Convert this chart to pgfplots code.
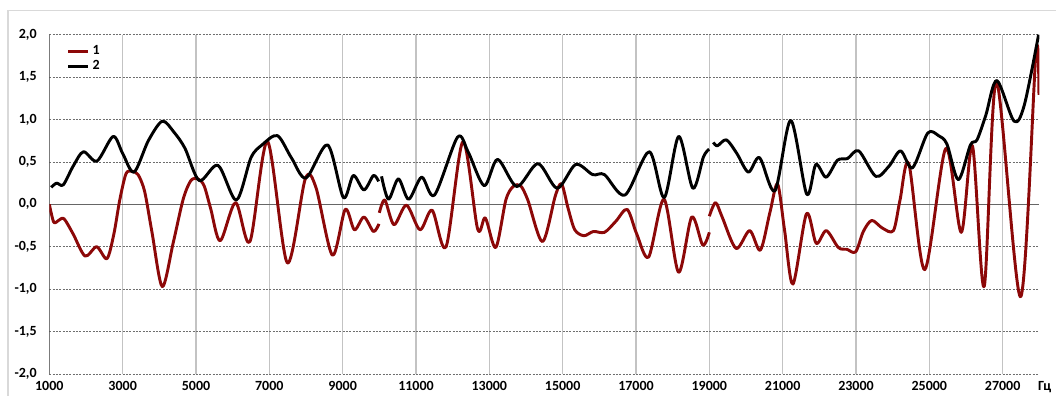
\documentclass[border=0pt]{standalone}
\usepackage{fontspec}
\setmainfont{Carlito}
\usepackage{pgfplots}
\pgfplotsset{compat=1.18}
\definecolor{dred}{RGB}{140,8,8}
\definecolor{vgrid}{RGB}{195,195,195}
\definecolor{hgrid}{RGB}{110,110,110}
\definecolor{axgray}{RGB}{85,85,85}
\begin{document}
\begin{tikzpicture}
\useasboundingbox (-37pt,-16.5pt) rectangle (755pt,280.5pt);
\begin{axis}[
  at={(0,0)}, anchor=south west, scale only axis,
  width=742.5pt, height=254.5pt,
  xmin=1000, xmax=28000, ymin=-2, ymax=2,
  axis line style={draw=none},
  xtick={1000,3000,5000,7000,9000,11000,13000,15000,17000,19000,21000,23000,25000,27000},
  xticklabels={1000,3000,5000,7000,9000,11000,13000,15000,17000,19000,21000,23000,25000,27000},
  extra x ticks={28000}, extra x tick labels={Гц},
  extra x tick style={grid=none, xticklabel style={xshift=4pt}},
  ytick={-2,-1.5,-1,-0.5,0,0.5,1,1.5,2},
  yticklabels={{-2,0},{-1,5},{-1,0},{-0,5},{0,0},{0,5},{1,0},{1,5},{2,0}},
  grid=major,
  x grid style={vgrid, line width=0.8pt},
  y grid style={hgrid, line width=0.6pt, dash pattern=on 1.5pt off 1pt},
  major tick length=0pt,
  tick label style={font=\bfseries\fontsize{10.5}{12}\selectfont},
  xticklabel style={yshift=-2pt},
  yticklabel style={xshift=-6pt},
  legend style={at={(rel axis cs:0,1)}, anchor=north west, xshift=12pt, yshift=-5pt,
    draw=none, fill=none, font=\bfseries\fontsize{10.5}{12}\selectfont,
    row sep=-1pt, inner sep=1pt, cells={anchor=west}},
  legend image code/.code={\draw[#1, line width=2.2pt] (0pt,0pt) -- (15pt,0pt);},
  every axis plot/.append style={line width=2.2pt, line join=round, smooth, tension=0.5},
]
\draw[gray!80!black, line width=0.9pt] (axis cs:1000,0) -- (axis cs:28000,0);
\draw[axgray, line width=1.5pt] (rel axis cs:0,0) -- (rel axis cs:0,1);

% series 1, segment 1
\addplot[dred] coordinates {
(1000,0.00) (1120,-0.21) (1250,-0.19) (1400,-0.17) (1650,-0.35) (1975,-0.61)
(2290,-0.50) (2570,-0.64) (2760,-0.35) (2920,0.05) (3090,0.36) (3250,0.39)
(3420,0.35) (3600,0.15) (3800,-0.33) (4080,-0.97) (4380,-0.45) (4650,0.06)
(4860,0.28) (5050,0.30) (5220,0.22) (5400,-0.05) (5660,-0.43) (6080,0.02)
(6470,-0.44) (6950,0.74) (7490,-0.69) (7980,0.30) (8270,0.20) (8720,-0.60)
(9070,-0.06) (9320,-0.30) (9580,-0.15) (9840,-0.32) (9990,-0.23)
};
\addlegendentry{1}
% series 2, segment 1
\addplot[black] coordinates {
(1050,0.20) (1200,0.25) (1380,0.23) (1650,0.45) (1930,0.62) (2300,0.51)
(2740,0.80) (3000,0.60) (3310,0.38) (3700,0.75) (4080,0.98) (4400,0.85)
(4700,0.66) (5090,0.28) (5600,0.46) (6100,0.05) (6500,0.55) (6800,0.70)
(7220,0.81) (7600,0.55) (8000,0.31) (8590,0.70) (9020,0.08) (9290,0.34)
(9580,0.17) (9840,0.34) (9980,0.27)
};
\addlegendentry{2}

% series 1, segment 2
\addplot[dred, forget plot] coordinates {
(10000,-0.10) (10150,0.05) (10400,-0.24) (10740,-0.01) (11110,-0.30) (11440,-0.07)
(11820,-0.50) (12280,0.74) (12680,-0.29) (12890,-0.16) (13175,-0.51) (13450,0.05)
(13650,0.21) (13850,0.22) (14050,0.05) (14450,-0.44) (14800,0.10) (14970,0.24)
(15150,-0.05) (15330,-0.30) (15580,-0.37) (15840,-0.32) (16140,-0.33) (16450,-0.20)
(16760,-0.06) (17020,-0.35) (17345,-0.62) (17765,0.06) (18160,-0.80) (18520,-0.15)
(18820,-0.48) (19000,-0.33)
};
% series 1, segment 3
\addplot[dred, forget plot] coordinates {
(19000,-0.14) (19170,0.02) (19350,-0.15) (19730,-0.52) (20100,-0.31) (20390,-0.54)
(20650,-0.10) (20860,0.24) (21050,-0.30) (21280,-0.94) (21650,-0.11) (21915,-0.46)
(22190,-0.31) (22520,-0.51) (22750,-0.53) (22990,-0.56) (23200,-0.32) (23430,-0.19)
(23720,-0.28) (24020,-0.31) (24200,0.05) (24440,0.48) (24875,-0.77) (25450,0.66)
(25870,-0.33) (26175,0.69) (26495,-0.97) (26830,1.45) (27490,-1.09) (27910,1.80)
(27990,1.29)
};
% series 2, segment 2
\addplot[black, forget plot] coordinates {
(10060,0.33) (10250,0.06) (10520,0.30) (10800,0.06) (11155,0.32) (11505,0.11)
(12130,0.79) (12420,0.62) (12860,0.22) (13225,0.53) (13750,0.21) (14325,0.48)
(14850,0.19) (15355,0.47) (15820,0.35) (16140,0.35) (16700,0.11) (17360,0.62)
(17770,0.08) (18165,0.80) (18550,0.19) (18840,0.56) (18995,0.65)
};
% series 2, segment 3
\addplot[black, forget plot] coordinates {
(19110,0.73) (19220,0.69) (19465,0.76) (19750,0.60) (20065,0.38) (20370,0.55)
(20790,0.16) (21220,0.99) (21655,0.12) (21905,0.47) (22185,0.32) (22495,0.52)
(22770,0.54) (23075,0.63) (23540,0.33) (23900,0.45) (24215,0.63) (24540,0.43)
(24955,0.84) (25250,0.81) (25480,0.71) (25790,0.29) (26120,0.70) (26300,0.76)
(26540,1.05) (26840,1.46) (27310,0.98) (27590,1.17) (27980,2.00)
};
\end{axis}
\draw[gray!30, line width=0.8pt] (-31pt,-20pt) -- (-31pt,272.3pt) -- (760pt,272.3pt);
\end{tikzpicture}
\end{document}
